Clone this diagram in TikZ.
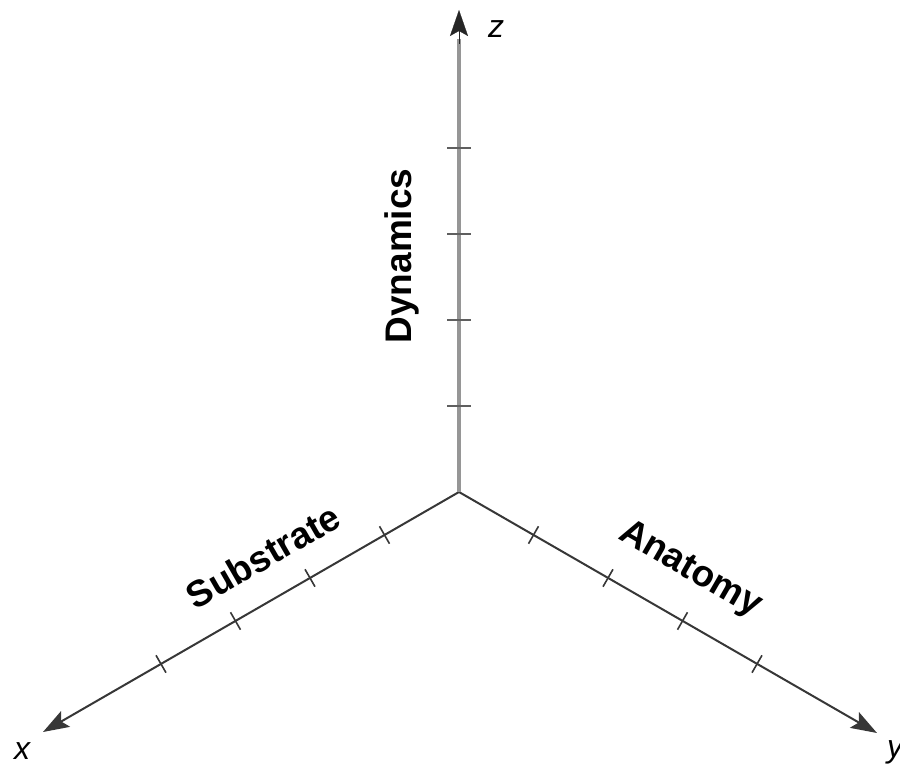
\documentclass[tikz,border=0pt]{standalone}
\usepackage{fontspec}
\setsansfont{Liberation Sans}
\usepackage{tikz}
\usetikzlibrary{arrows.meta,positioning,calc}
\usepackage{xcolor}

\definecolor{axisgray}{RGB}{150,150,150}
\definecolor{tickgray}{RGB}{95,95,95}
\definecolor{axisdark}{RGB}{55,55,55}

\tikzset{
    axislabel/.style={font=\sffamily\bfseries\fontsize{18.5}{20}\selectfont, inner sep=0pt},
    axisname/.style={font=\sffamily\itshape\fontsize{16}{18}\selectfont, inner sep=0pt},
    axistip/.style={-{Stealth[length=13pt,width=9pt,inset=2.5pt]}},
}

\begin{document}
\begin{tikzpicture}[x=0.5pt, y=-0.5pt]
    \useasboundingbox (0,0) rectangle (900,769);

    % Origine et extremites
    \coordinate (O) at (459,492);
    \coordinate (Z) at (459,10);
    \coordinate (X) at (43,732);
    \coordinate (Y) at (877,733);

    % Axes
    \draw[axisdark, line width=1pt, axistip] (O) -- (X);
    \draw[axisdark, line width=1pt, axistip] (O) -- (Y);
    \draw[axisgray, line width=2.2pt] (O) -- ($(O)!0.94!(Z)$);
    \draw[black!85, line width=0.1pt, axistip] ($(O)!0.93!(Z)$) -- (Z);

    % Graduations
    \foreach \i in {1,...,4} {
        \draw[tickgray, line width=1.2pt] (447,{492-86*\i}) -- (471,{492-86*\i});
        \draw[axisdark, line width=0.8pt] ({459-74.5*\i+5},{492+43*\i+8.7}) -- ++(-10,-17.4);
        \draw[axisdark, line width=0.8pt] ({459+74.5*\i-5},{492+43*\i+8.7}) -- ++(10,-17.4);
    }

    % Noms des axes
    \node[axisname] (zname) at (496,29) {z};
    \node[axisname] (xname) at (22,751) {x};
    \node[axisname] (yname) at (895,752) {y};

    % Legendes
    \node[axislabel, rotate=90] (dyn) at (402,256) {Dynamics};
    \node[axislabel, rotate=30] (sub) at (263,556) {Substrate};
    \node[axislabel, rotate=-30] (ana) at (690,570) {Anatomy};
\end{tikzpicture}
\end{document}
